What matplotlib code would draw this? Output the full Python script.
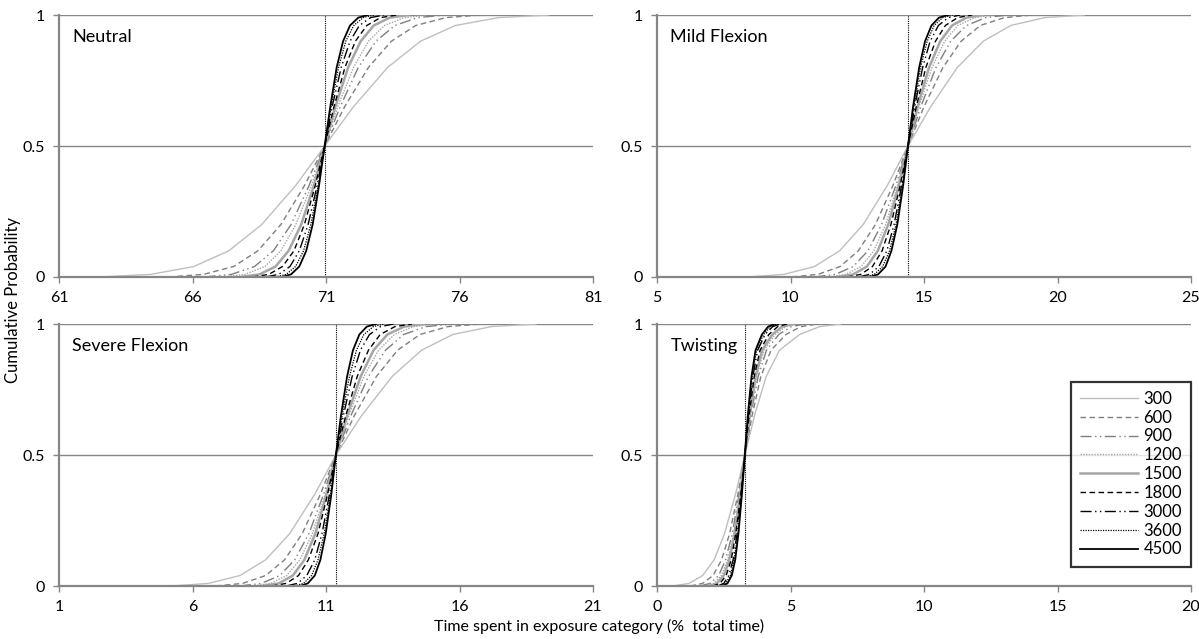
import matplotlib.pyplot as plt

plt.rcParams['font.family'] = ['Lato', 'DejaVu Sans']

probs = [0, 0.01, 0.04, 0.1, 0.2, 0.35, 0.5, 0.65, 0.8, 0.9, 0.96, 0.99, 1.0]

sizes = ['300', '600', '900', '1200', '1500', '1800', '3000', '3600', '4500']

neutral = [
    [62.55, 64.44, 66.05, 67.36, 68.59, 69.87, 70.95, 72.03, 73.31, 74.54, 75.85, 77.46, 79.35],
    [65.10, 66.41, 67.54, 68.45, 69.31, 70.20, 70.95, 71.70, 72.59, 73.45, 74.36, 75.49, 76.80],
    [66.45, 67.46, 68.32, 69.03, 69.69, 70.37, 70.95, 71.53, 72.21, 72.87, 73.58, 74.44, 75.45],
    [67.11, 67.97, 68.71, 69.31, 69.87, 70.46, 70.95, 71.44, 72.03, 72.59, 73.19, 73.93, 74.79],
    [67.80, 68.51, 69.11, 69.60, 70.07, 70.55, 70.95, 71.35, 71.83, 72.30, 72.79, 73.39, 74.10],
    [68.25, 68.86, 69.37, 69.80, 70.19, 70.60, 70.95, 71.30, 71.71, 72.10, 72.53, 73.04, 73.65],
    [68.73, 69.23, 69.65, 70.00, 70.33, 70.67, 70.95, 71.23, 71.57, 71.90, 72.25, 72.67, 73.17],
    [69.09, 69.51, 69.86, 70.16, 70.43, 70.71, 70.95, 71.19, 71.47, 71.74, 72.04, 72.39, 72.81],
    [69.33, 69.69, 70.00, 70.26, 70.50, 70.74, 70.95, 71.16, 71.40, 71.64, 71.90, 72.21, 72.57],
]

mild = [
    [8.40, 9.75, 10.90, 11.84, 12.72, 13.63, 14.40, 15.25, 16.25, 17.22, 18.25, 19.52, 21.00],
    [10.05, 11.03, 11.86, 12.54, 13.18, 13.84, 14.40, 15.00, 15.71, 16.39, 17.11, 18.01, 19.05],
    [10.89, 11.68, 12.35, 12.90, 13.41, 13.95, 14.40, 14.88, 15.45, 16.00, 16.59, 17.31, 18.15],
    [11.40, 12.07, 12.65, 13.12, 13.56, 14.01, 14.40, 14.81, 15.30, 15.77, 16.27, 16.89, 17.61],
    [11.76, 12.35, 12.86, 13.27, 13.66, 14.06, 14.40, 14.76, 15.19, 15.61, 16.05, 16.59, 17.22],
    [12.12, 12.63, 13.07, 13.43, 13.76, 14.11, 14.40, 14.71, 15.07, 15.43, 15.80, 16.26, 16.80],
    [12.54, 12.96, 13.31, 13.61, 13.88, 14.16, 14.40, 14.65, 14.95, 15.23, 15.54, 15.91, 16.35],
    [12.78, 13.14, 13.45, 13.71, 13.95, 14.19, 14.40, 14.62, 14.87, 15.12, 15.38, 15.70, 16.08],
    [12.96, 13.28, 13.56, 13.78, 14.00, 14.22, 14.40, 14.59, 14.82, 15.04, 15.28, 15.56, 15.90],
]

severe = [
    [5.22, 6.60, 7.78, 8.74, 9.64, 10.58, 11.37, 12.33, 13.48, 14.58, 15.75, 17.19, 18.87],
    [6.87, 7.88, 8.74, 9.45, 10.11, 10.79, 11.37, 12.06, 12.89, 13.68, 14.52, 15.56, 16.77],
    [7.77, 8.58, 9.27, 9.83, 10.36, 10.91, 11.37, 11.93, 12.59, 13.23, 13.91, 14.74, 15.72],
    [8.22, 8.93, 9.53, 10.02, 10.49, 10.97, 11.37, 11.85, 12.42, 12.97, 13.56, 14.28, 15.12],
    [8.61, 9.23, 9.76, 10.19, 10.60, 11.02, 11.37, 11.79, 12.30, 12.78, 13.30, 13.93, 14.67],
    [8.97, 9.51, 9.97, 10.34, 10.70, 11.06, 11.37, 11.74, 12.17, 12.59, 13.03, 13.58, 14.22],
    [9.51, 9.93, 10.28, 10.58, 10.85, 11.13, 11.37, 11.65, 11.98, 12.29, 12.63, 13.04, 13.53],
    [9.81, 10.16, 10.46, 10.70, 10.93, 11.17, 11.37, 11.60, 11.88, 12.14, 12.42, 12.77, 13.17],
    [10.02, 10.32, 10.58, 10.79, 10.99, 11.20, 11.37, 11.56, 11.79, 12.01, 12.25, 12.53, 12.87],
]

twisting = [
    [0.59, 1.20, 1.71, 2.14, 2.53, 2.94, 3.29, 3.65, 4.09, 4.59, 5.34, 6.09, 6.89],
    [1.25, 1.71, 2.10, 2.42, 2.72, 3.03, 3.29, 3.56, 3.89, 4.27, 4.83, 5.39, 5.99],
    [1.61, 1.99, 2.31, 2.57, 2.82, 3.07, 3.29, 3.51, 3.79, 4.10, 4.56, 5.03, 5.52],
    [1.79, 2.13, 2.41, 2.65, 2.87, 3.10, 3.29, 3.49, 3.73, 4.01, 4.42, 4.83, 5.27],
    [1.94, 2.24, 2.50, 2.71, 2.91, 3.12, 3.29, 3.47, 3.69, 3.94, 4.32, 4.69, 5.09],
    [2.09, 2.36, 2.59, 2.78, 2.95, 3.14, 3.29, 3.45, 3.64, 3.86, 4.19, 4.52, 4.87],
    [2.27, 2.50, 2.69, 2.85, 3.00, 3.16, 3.29, 3.42, 3.59, 3.77, 4.05, 4.33, 4.62],
    [2.36, 2.57, 2.75, 2.89, 3.03, 3.17, 3.29, 3.41, 3.56, 3.73, 3.99, 4.24, 4.51],
    [2.45, 2.64, 2.80, 2.93, 3.05, 3.18, 3.29, 3.40, 3.54, 3.69, 3.93, 4.16, 4.41],
]

titles = ['Neutral', 'Mild Flexion', 'Severe Flexion', 'Twisting']
curves = [neutral, mild, severe, twisting]
medians = [70.95, 14.40, 11.37, 3.29]
xranges = [(61, 81), (5, 25), (1, 21), (0, 20)]

styles = [
    dict(color='#bfbfbf', ls='-', lw=1.0),
    dict(color='#7f7f7f', ls=(0, (4, 2.5)), lw=1.0),
    dict(color='#7f7f7f', ls=(0, (8, 2.5, 1, 2.5, 1, 2.5)), lw=1.0),
    dict(color='#a6a6a6', ls=(0, (1, 1)), lw=1.0),
    dict(color='#a6a6a6', ls='-', lw=1.8),
    dict(color='black', ls=(0, (4, 2.5)), lw=1.0),
    dict(color='black', ls=(0, (8, 2.5, 1, 2.5, 1, 2.5)), lw=1.0),
    dict(color='black', ls=(0, (1, 1)), lw=0.9),
    dict(color='black', ls='-', lw=1.3),
]

fig = plt.figure(figsize=(11.99, 6.39), dpi=100)
W, H = 1199, 639
boxes = [(59, 15), (657, 15), (59, 324), (657, 324)]
grey = '#868686'

for i in range(4):
    left, top = boxes[i]
    ax = fig.add_axes([left / W, 1 - (top + 262) / H, 534 / W, 262 / H])
    for j in range(len(sizes)):
        ax.plot(curves[i][j], probs, label=sizes[j], **styles[j])
    ax.plot([medians[i], medians[i]], [0, 1], color='black', ls=(0, (1, 1)), lw=0.8)
    for yv in [0.5, 1]:
        ax.axhline(yv, color=grey, lw=1.0, zorder=0)
    ax.set_xlim(*xranges[i])
    ax.set_ylim(0, 1)
    ax.set_xticks(range(xranges[i][0], xranges[i][1] + 1, 5))
    ax.set_yticks([0, 0.5, 1])
    ax.set_yticklabels(['0', '0.5', '1'])
    for s in ['top', 'right']:
        ax.spines[s].set_visible(False)
    for s in ['left', 'bottom']:
        ax.spines[s].set_color(grey)
        ax.spines[s].set_linewidth(1.6)
    ax.tick_params(direction='out', length=4, width=1, color=grey, labelsize=11.5, pad=6)
    ax.text(0.025, 0.945, titles[i], transform=ax.transAxes, fontsize=13, va='top')
    ax.margins(0)
    if i == 3:
        leg = ax.legend(loc='upper right', bbox_to_anchor=(1.0, 0.78), fontsize=12,
                        handlelength=3.5, labelspacing=0.17, frameon=True, fancybox=False,
                        borderpad=0.55, handletextpad=0.3, borderaxespad=0)
        leg.get_frame().set_edgecolor('black')
        leg.get_frame().set_linewidth(1.6)

fig.text(13 / W, 1 - 300 / H, 'Cumulative Probability', rotation=90, ha='center', va='center', fontsize=12)
fig.text(0.5, 1 - 626 / H, 'Time spent in exposure category (%  total time)', ha='center', va='center', fontsize=11.5)

fig.savefig('out.png', dpi=100)
